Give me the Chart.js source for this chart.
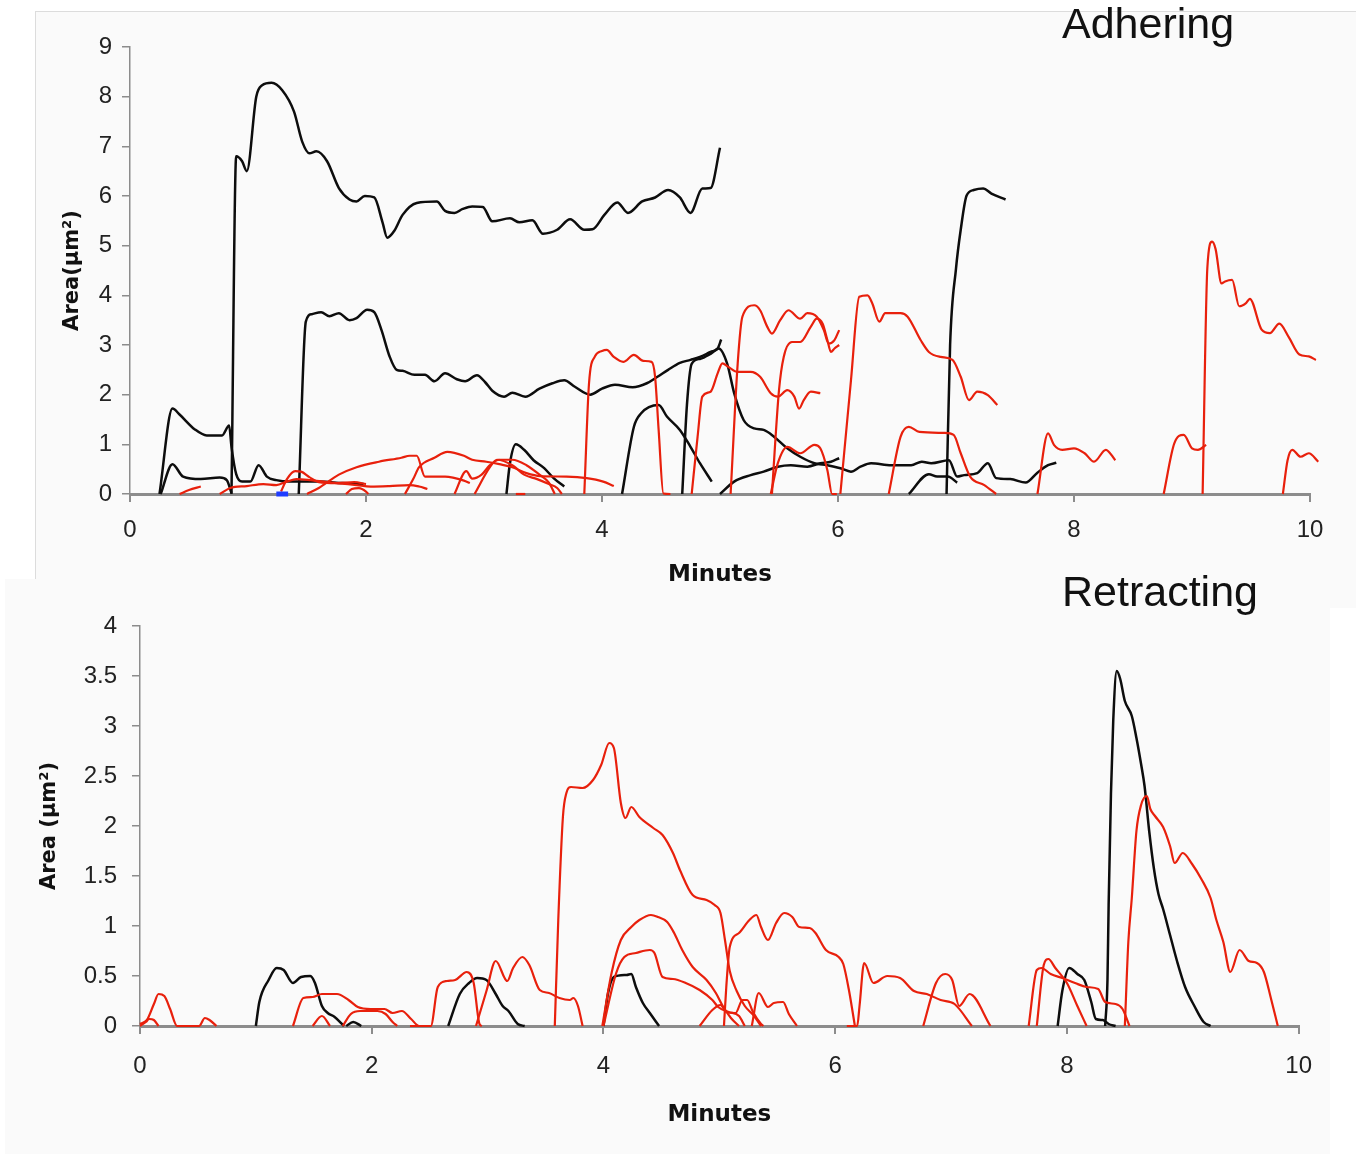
<!DOCTYPE html>
<html>
<head>
<meta charset="utf-8">
<title>Adhering / Retracting</title>
<script src="https://cdn.jsdelivr.net/npm/chart.js@4.4.0/dist/chart.umd.min.js"></script>
<style>
  html, body { margin: 0; padding: 0; background: #fff; }
  body { width: 1356px; height: 1154px; position: relative; overflow: hidden; }
  .panel { position: absolute; background: #fafafa; }
  #panelTop { left: 35px; top: 11px; width: 1330px; height: 596px; border-top: 1px solid #dcdcdc; border-left: 1px solid #dcdcdc; }
  #panelBottom { left: 5px; top: 579px; width: 1325px; height: 580px; }
  canvas { position: absolute; }
  #adhering { left: 35px; top: 11px; }
  #retracting { left: 5px; top: 580px; }
  .panelTitle { position: absolute; font: 43px/43px "Liberation Sans", Arial, sans-serif; color: #111; white-space: nowrap; z-index: 5; }
  #titleTop { left: 1062px; top: 2px; }
  #titleBottom { left: 1062px; top: 570px; }
</style>
</head>
<body>
<div class="panel" id="panelTop"></div>
<div class="panel" id="panelBottom"></div>
<canvas id="adhering" width="1321" height="589"></canvas>
<canvas id="retracting" width="1325" height="574"></canvas>
<div class="panelTitle" id="titleTop">Adhering</div>
<div class="panelTitle" id="titleBottom">Retracting</div>
<script>
// ---- Adhering panel: each trace is [minutes, area] ----
const adhK1 = [[0.86,0],[0.9,6.8],[0.95,6.7],[0.99,6.5],[1.07,8.0],[1.12,8.23],[1.2,8.28],[1.29,8.13],[1.39,7.7],[1.46,7.09],[1.52,6.86],[1.58,6.9],[1.67,6.7],[1.77,6.16],[1.86,5.93],[1.92,5.89],[1.99,6.0],[2.07,5.97],[2.14,5.47],[2.18,5.16],[2.24,5.3],[2.31,5.62],[2.43,5.86],[2.6,5.89],[2.67,5.7],[2.75,5.66],[2.82,5.74],[2.9,5.79],[2.99,5.78],[3.07,5.49],[3.22,5.55],[3.3,5.47],[3.41,5.51],[3.5,5.24],[3.62,5.32],[3.73,5.53],[3.85,5.32],[3.92,5.33],[4.02,5.62],[4.13,5.87],[4.22,5.66],[4.34,5.89],[4.45,5.97],[4.56,6.12],[4.66,5.97],[4.75,5.66],[4.85,6.15],[4.92,6.16],[5.0,6.97]];
const adhK2 = [[0.25,0],[0.36,1.72],[0.42,1.6],[0.55,1.3],[0.65,1.18],[0.78,1.18],[0.84,1.38],[0.86,0.95],[0.9,0.4],[0.95,0.25],[1.02,0.25],[1.09,0.58],[1.16,0.35],[1.24,0.28],[1.35,0.25],[1.6,0.25],[1.8,0.22],[1.98,0.2]];
const adhK3 = [[0.26,0],[0.36,0.6],[0.45,0.35],[0.6,0.3],[0.76,0.33],[0.82,0.28],[0.86,0.02]];
const adhK4 = [[1.43,0],[1.49,3.47],[1.54,3.62],[1.62,3.66],[1.69,3.58],[1.77,3.64],[1.86,3.5],[1.92,3.54],[2.01,3.71],[2.07,3.66],[2.13,3.31],[2.2,2.77],[2.26,2.5],[2.31,2.48],[2.41,2.4],[2.5,2.4],[2.58,2.27],[2.67,2.43],[2.77,2.31],[2.84,2.27],[2.94,2.39],[3.01,2.25],[3.07,2.08],[3.17,1.96],[3.24,2.04],[3.35,1.96],[3.47,2.12],[3.58,2.23],[3.68,2.29],[3.77,2.16],[3.9,2.0],[4.0,2.12],[4.11,2.2],[4.26,2.15],[4.38,2.23],[4.47,2.36],[4.56,2.5],[4.66,2.64],[4.75,2.7],[4.83,2.76],[4.92,2.86],[4.98,2.93],[5.01,3.11]];
const adhK5 = [[4.68,0],[4.72,1.8],[4.76,2.62],[4.83,2.72],[4.92,2.82],[4.99,2.93],[5.06,2.63],[5.12,2.03],[5.2,1.49],[5.29,1.32],[5.37,1.29],[5.46,1.15],[5.57,0.92],[5.68,0.75],[5.8,0.62],[5.91,0.58],[6.02,0.52],[6.11,0.45],[6.19,0.55],[6.28,0.62],[6.45,0.58],[6.62,0.58],[6.71,0.65],[6.79,0.62],[6.94,0.68],[7.01,0.35],[7.07,0.38],[7.18,0.42],[7.27,0.62],[7.34,0.32],[7.46,0.3],[7.59,0.23],[7.69,0.43],[7.78,0.58],[7.85,0.63]];
const adhK6 = [[4.17,0],[4.27,1.35],[4.33,1.62],[4.48,1.79],[4.55,1.56],[4.66,1.29],[4.75,0.95],[4.83,0.62],[4.93,0.25]];
const adhK7 = [[5.0,0],[5.12,0.25],[5.26,0.38],[5.37,0.45],[5.49,0.55],[5.6,0.58],[5.74,0.55],[5.85,0.62],[5.94,0.65],[6.01,0.72]];
const adhK8 = [[6.6,0],[6.77,0.4],[6.84,0.35],[6.93,0.35],[7.01,0.23]];
const adhK9 = [[6.92,0],[6.95,3.0],[7.0,4.54],[7.04,5.32],[7.09,6.01],[7.15,6.12],[7.23,6.15],[7.3,6.05],[7.42,5.93]];
const adhK10 = [[3.19,0],[3.22,0.62],[3.27,1.0],[3.34,0.89],[3.42,0.68],[3.51,0.52],[3.59,0.32],[3.68,0.15]];

const adhR1 = [[0.42,0],[0.5,0.08],[0.6,0.15]];
const adhR2 = [[0.76,0],[0.85,0.12],[0.99,0.16],[1.13,0.2],[1.24,0.18],[1.33,0.25],[1.41,0.3],[1.53,0.28],[1.64,0.25],[1.75,0.22],[1.92,0.18],[2.04,0.15],[2.2,0.16],[2.37,0.18],[2.45,0.15],[2.52,0.1]];
const adhR3 = [[1.28,0.05],[1.33,0.3],[1.4,0.46],[1.45,0.45],[1.52,0.34],[1.6,0.24],[1.75,0.22],[1.9,0.24],[2.0,0.2]];
const adhR4 = [[1.5,0],[1.6,0.12],[1.77,0.39],[1.92,0.54],[2.11,0.65],[2.3,0.73],[2.37,0.77],[2.43,0.77],[2.5,0.35],[2.67,0.35],[2.83,0.27],[2.88,0.22]];
const adhR5 = [[2.33,0],[2.4,0.3],[2.45,0.54],[2.58,0.73],[2.69,0.85],[2.83,0.77],[2.9,0.69],[3.02,0.65],[3.13,0.6],[3.24,0.54],[3.36,0.42],[3.48,0.36],[3.7,0.35],[3.87,0.32],[4.01,0.25],[4.1,0.16]];
const adhR6 = [[2.75,0],[2.85,0.46],[2.9,0.31],[2.98,0.39],[3.05,0.58],[3.13,0.69],[3.24,0.69],[3.36,0.58],[3.47,0.39],[3.55,0.23],[3.6,0]];
const adhR7 = [[2.92,0],[3.05,0.54],[3.11,0.69],[3.24,0.58],[3.34,0.39],[3.45,0.3],[3.55,0.2],[3.62,0.12],[3.66,0]];
const adhR8 = [[1.83,0],[1.88,0.1],[1.94,0.12],[2.0,0.05],[2.02,0]];
const adhR9 = [[3.27,0],[3.35,0]];
const adhR10 = [[3.85,0],[3.89,2.23],[3.94,2.77],[4.0,2.88],[4.04,2.9],[4.1,2.76],[4.18,2.66],[4.27,2.8],[4.35,2.68],[4.42,2.66],[4.45,2.36],[4.48,1.29],[4.52,0.01],[4.58,0]];
const adhR11 = [[4.76,0],[4.81,1.15],[4.85,1.96],[4.92,2.06],[4.98,2.43],[5.02,2.63],[5.07,2.56],[5.15,2.46],[5.26,2.46],[5.34,2.36],[5.43,2.03],[5.49,1.96],[5.57,2.09],[5.63,1.96],[5.67,1.72],[5.71,1.89],[5.77,2.06],[5.85,2.03]];
const adhR12 = [[5.09,0],[5.15,2.63],[5.19,3.57],[5.29,3.8],[5.34,3.7],[5.4,3.37],[5.44,3.23],[5.51,3.5],[5.58,3.7],[5.68,3.53],[5.74,3.64],[5.82,3.57],[5.88,3.3],[5.92,3.03],[5.97,3.1],[6.01,3.3]];
const adhR13 = [[5.44,0],[5.5,2.09],[5.54,2.76],[5.61,3.06],[5.68,3.06],[5.77,3.37],[5.82,3.53],[5.87,3.43],[5.91,3.1],[5.94,2.86],[5.97,2.93],[6.01,3.0]];
const adhR14 = [[5.43,0],[5.49,0.62],[5.57,0.95],[5.68,0.82],[5.8,0.99],[5.85,0.92],[5.91,0.48],[5.95,0],[5.99,0]];
const adhR15 = [[6.02,0],[6.11,2.29],[6.18,3.97],[6.25,4.0],[6.29,3.84],[6.35,3.47],[6.4,3.64],[6.53,3.64],[6.59,3.57],[6.7,3.1],[6.77,2.86],[6.87,2.76],[6.97,2.7],[7.04,2.36],[7.11,1.89],[7.18,2.06],[7.27,1.99],[7.35,1.79]];
const adhR16 = [[6.43,0],[6.53,1.15],[6.6,1.35],[6.69,1.25],[6.9,1.23],[6.98,1.19],[7.04,0.82],[7.12,0.35],[7.24,0.18],[7.34,0]];
const adhR17 = [[7.69,0],[7.78,1.22],[7.83,0.99],[7.9,0.89],[8.0,0.92],[8.09,0.82],[8.17,0.65],[8.27,0.89],[8.35,0.68]];
const adhR18 = [[8.76,0],[8.85,1.02],[8.93,1.19],[9.0,0.92],[9.05,0.89],[9.12,0.99]];
const adhR19 = [[9.09,0],[9.13,4.55],[9.17,5.08],[9.2,4.93],[9.25,4.24],[9.28,4.28],[9.34,4.31],[9.4,3.78],[9.46,3.85],[9.49,3.93],[9.59,3.31],[9.66,3.24],[9.74,3.43],[9.82,3.16],[9.91,2.81],[9.99,2.77],[10.05,2.7]];
const adhR20 = [[9.77,0],[9.81,0.68],[9.85,0.89],[9.92,0.75],[9.99,0.82],[10.07,0.65]];
const adhBlue = [[1.24,0],[1.34,0]];

// ---- Retracting panel ----
const retR1 = [[0,0],[0.05,0.04],[0.08,0.07],[0.12,0.06],[0.16,0]];
const retR2 = [[0,0.02],[0.06,0.06],[0.12,0.22],[0.16,0.32],[0.21,0.3],[0.26,0.17],[0.32,0],[0.51,0],[0.56,0.08],[0.6,0.06],[0.66,0]];
const retK1 = [[1.0,0],[1.03,0.24],[1.11,0.46],[1.18,0.58],[1.24,0.56],[1.32,0.43],[1.39,0.49],[1.47,0.5],[1.51,0.43],[1.57,0.2],[1.62,0.13],[1.68,0.09],[1.76,0]];
const retK2 = [[1.78,0],[1.84,0.04],[1.91,0]];
const retR3 = [[1.32,0],[1.41,0.28],[1.49,0.29],[1.57,0.32],[1.7,0.32],[1.8,0.26],[1.88,0.19],[1.99,0.17],[2.11,0.17],[2.18,0.13],[2.26,0.15],[2.34,0.07],[2.41,0],[2.49,0]];
const retR4 = [[1.75,0],[1.82,0.12],[1.9,0.15],[2.05,0.15],[2.12,0.12],[2.18,0.04],[2.22,0]];
const retR5 = [[1.49,0],[1.57,0.1],[1.64,0]];
const retR6 = [[2.33,0],[2.51,0],[2.57,0.39],[2.65,0.45],[2.72,0.46],[2.82,0.54],[2.88,0.43],[2.93,0.02],[2.95,0]];
const retK3 = [[2.66,0],[2.76,0.32],[2.84,0.43],[2.91,0.48],[2.99,0.46],[3.07,0.32],[3.13,0.2],[3.18,0.15],[3.26,0.02],[3.32,0]];
const retR7 = [[2.9,0],[2.99,0.35],[3.07,0.65],[3.17,0.45],[3.22,0.58],[3.3,0.69],[3.36,0.61],[3.45,0.36],[3.53,0.33],[3.62,0.28],[3.71,0.26],[3.74,0.28],[3.78,0.2],[3.82,0]];
const retR8 = [[3.58,0],[3.61,1.06],[3.65,2.09],[3.68,2.33],[3.72,2.39],[3.82,2.38],[3.91,2.46],[3.98,2.61],[4.05,2.83],[4.09,2.78],[4.15,2.23],[4.19,2.08],[4.24,2.19],[4.31,2.09],[4.43,1.98],[4.51,1.91],[4.6,1.73],[4.66,1.56],[4.77,1.31],[4.89,1.26],[4.96,1.21],[5.01,1.13],[5.05,0.85],[5.09,0.55],[5.15,0.35],[5.22,0.2],[5.3,0.1],[5.36,0]];
const retR9 = [[3.99,0],[4.07,0.53],[4.15,0.86],[4.24,0.99],[4.31,1.06],[4.41,1.11],[4.47,1.09],[4.55,1.04],[4.61,0.93],[4.68,0.76],[4.77,0.59],[4.89,0.46],[4.97,0.33],[5.03,0.2],[5.1,0.08],[5.17,0]];
const retR10 = [[4.0,0],[4.11,0.53],[4.18,0.69],[4.28,0.73],[4.4,0.76],[4.44,0.73],[4.51,0.49],[4.6,0.47],[4.71,0.43],[4.83,0.36],[4.94,0.26],[4.99,0.19],[5.08,0.14],[5.17,0.1],[5.22,0]];
const retK4 = [[4.0,0],[4.04,0.33],[4.09,0.49],[4.2,0.51],[4.24,0.52],[4.28,0.39],[4.34,0.23],[4.4,0.13],[4.48,0]];
const retR11 = [[5.04,0],[5.06,0.39],[5.09,0.79],[5.17,0.93],[5.26,1.06],[5.32,1.11],[5.36,0.99],[5.42,0.86],[5.49,1.03],[5.56,1.13],[5.63,1.09],[5.69,0.99],[5.78,0.98],[5.83,0.93],[5.92,0.76],[6.03,0.69],[6.07,0.62],[6.12,0.35],[6.17,0]];
const retR12 = [[4.83,0],[4.94,0.16],[5.01,0.21],[5.06,0.14],[5.14,0.13],[5.2,0.26],[5.24,0.26],[5.29,0.14],[5.36,0.02],[5.38,0]];
const retR13 = [[5.28,0],[5.34,0.33],[5.42,0.19],[5.47,0.23],[5.55,0.24],[5.6,0.12],[5.67,0]];
const retR14 = [[6.1,0],[6.19,0],[6.21,0.2],[6.25,0.63],[6.33,0.43],[6.45,0.5],[6.56,0.48],[6.68,0.35],[6.79,0.32],[6.91,0.26],[7.03,0.22],[7.18,0]];
const retR15 = [[6.76,0],[6.87,0.43],[6.95,0.52],[7.01,0.46],[7.07,0.2],[7.16,0.32],[7.34,0]];
const retR16 = [[7.67,0],[7.74,0.56],[7.78,0.58],[7.86,0.52],[7.96,0.48],[8.07,0.43],[8.17,0.39],[8.27,0.37],[8.33,0.24],[8.42,0.22],[8.48,0.17],[8.54,0]];
const retR17 = [[7.74,0],[7.8,0.61],[7.84,0.67],[7.9,0.58],[8.0,0.43],[8.09,0.2],[8.17,0]];
const retK5 = [[7.92,0],[7.96,0.35],[8.02,0.58],[8.09,0.52],[8.15,0.46],[8.21,0.24],[8.25,0.07],[8.31,0.06],[8.36,0.02],[8.42,0]];
const retK6 = [[8.33,0],[8.35,0.46],[8.36,1.21],[8.38,2.32],[8.4,3.06],[8.43,3.55],[8.46,3.47],[8.5,3.25],[8.56,3.1],[8.6,2.88],[8.64,2.62],[8.67,2.4],[8.71,1.95],[8.75,1.58],[8.79,1.32],[8.83,1.17],[8.89,0.91],[8.95,0.65],[9.02,0.39],[9.1,0.2],[9.18,0.04],[9.24,0]];
const retR18 = [[8.5,0],[8.53,0.84],[8.56,1.28],[8.6,1.95],[8.64,2.21],[8.69,2.3],[8.72,2.17],[8.76,2.1],[8.83,1.99],[8.89,1.8],[8.93,1.63],[9.0,1.73],[9.08,1.62],[9.16,1.47],[9.24,1.28],[9.29,1.06],[9.35,0.84],[9.41,0.54],[9.49,0.76],[9.57,0.65],[9.64,0.63],[9.7,0.54],[9.76,0.28],[9.82,0]];

const adheringBlack = [adhK1, adhK2, adhK3, adhK4, adhK5, adhK6, adhK7, adhK8, adhK9, adhK10];
const adheringRed = [adhR1, adhR2, adhR3, adhR4, adhR5, adhR6, adhR7, adhR8, adhR9, adhR10, adhR11, adhR12, adhR13, adhR14, adhR15, adhR16, adhR17, adhR18, adhR19, adhR20];
const retractingBlack = [retK1, retK2, retK3, retK4, retK5, retK6];
const retractingRed = [retR1, retR2, retR3, retR4, retR5, retR6, retR7, retR8, retR9, retR10, retR11, retR12, retR13, retR14, retR15, retR16, retR17, retR18];

const minuteTicks = [0, 2, 4, 6, 8, 10];

const BLACK = '#0d0d0d';
const RED = '#e8200c';
const AXIS = '#8c8c8c';
const tickFont = { family: '"Liberation Sans", Arial, sans-serif', size: 24 };
const titleFont = { family: '"DejaVu Sans", Verdana, sans-serif', size: 23, weight: 'bold' };

function toDataset(trace, color, width) {
  return {
    data: trace.map(p => ({ x: p[0], y: p[1] })),
    borderColor: color,
    borderWidth: width,
    pointRadius: 0,
    cubicInterpolationMode: 'monotone',
    fill: false,
    clip: false
  };
}

function makeChart(id, cfg) {
  const datasets = []
    .concat((cfg.extra || []).map(t => toDataset(t, '#1f3cff', 5)))
    .concat(cfg.red.map(t => toDataset(t, RED, 2.2)))
    .concat(cfg.black.map(t => toDataset(t, BLACK, 2.5)));

  return new Chart(document.getElementById(id), {
    type: 'line',
    data: { datasets },
    options: {
      responsive: false,
      animation: false,
      events: [],
      layout: { padding: cfg.padding },
      plugins: {
        legend: { display: false },
        tooltip: { enabled: false }
      },
      scales: {
        x: {
          type: 'linear',
          min: 0, max: 10,
          afterBuildTicks: s => { s.ticks = minuteTicks.map(v => ({ value: v })); },
          ticks: { color: '#222', font: tickFont, padding: cfg.xTickPad, maxRotation: 0, callback: v => String(v) },
          grid: { drawOnChartArea: false, drawTicks: true, tickLength: 8, color: AXIS, lineWidth: 2 },
          border: { color: AXIS, width: 3 },
          title: { display: true, text: 'Minutes', color: '#111', font: titleFont, padding: { top: 0, bottom: cfg.xTitlePad } },
          afterFit: s => { s.height = cfg.xHeight; }
        },
        y: {
          type: 'linear',
          min: 0, max: cfg.yMax,
          ticks: { stepSize: cfg.yStep, color: '#222', font: tickFont, padding: cfg.yTickPad, callback: v => String(v) },
          grid: { drawOnChartArea: false, drawTicks: true, tickLength: 8, color: AXIS, lineWidth: 1.5 },
          border: { color: AXIS, width: 1.5 },
          title: { display: true, text: cfg.yTitle, color: '#111', font: { family: titleFont.family, size: 21, weight: 'bold' }, padding: { top: cfg.yTitlePad, bottom: 0 } },
          afterFit: s => { s.width = cfg.yWidth; }
        }
      }
    }
  });
}

makeChart('adhering', {
  black: adheringBlack,
  red: adheringRed,
  extra: [adhBlue],
  padding: { left: 0, top: 36, right: 46, bottom: 0 },
  yMax: 9, yStep: 1,
  yTitle: 'Area(\u03bcm\u00b2)',
  yWidth: 95, xHeight: 106,
  xTickPad: 14, yTickPad: 10,
  xTitlePad: 11, yTitlePad: 25
});

makeChart('retracting', {
  black: retractingBlack,
  red: retractingRed,
  padding: { left: 0, top: 46, right: 30, bottom: 0 },
  yMax: 4, yStep: 0.5,
  yTitle: 'Area (\u03bcm\u00b2)',
  yWidth: 135, xHeight: 128,
  xTickPad: 18, yTickPad: 15,
  xTitlePad: 25, yTitlePad: 32
});
</script>
</body>
</html>
